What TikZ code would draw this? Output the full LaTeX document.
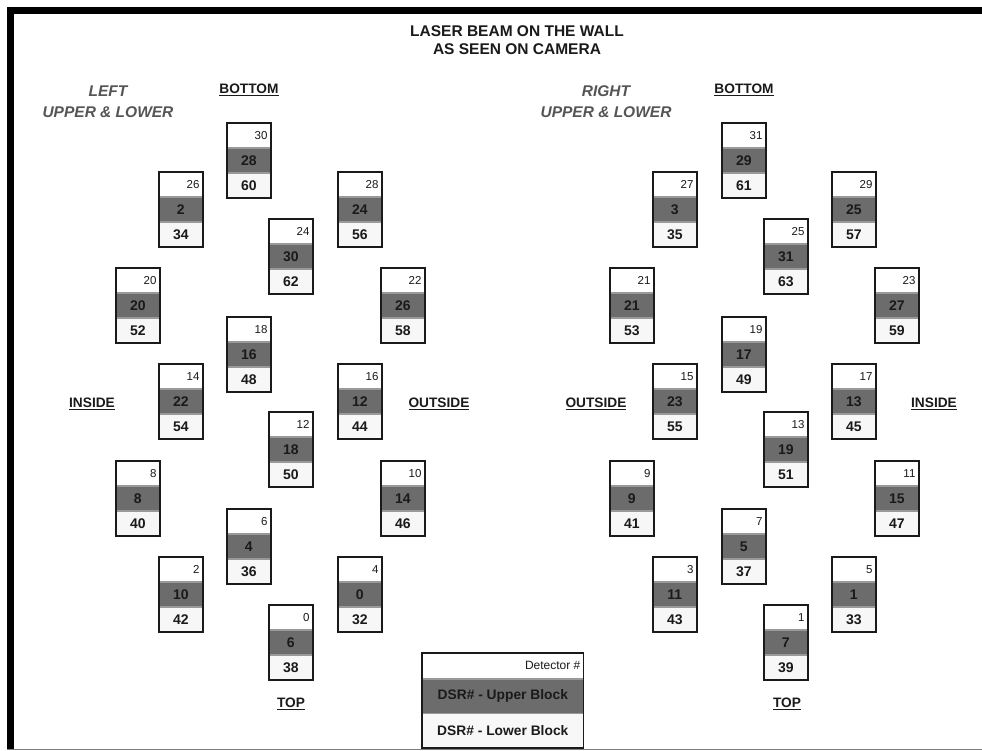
\documentclass[tikz,border=0pt]{standalone}
\usepackage{fontspec}
\setmainfont{Liberation Sans}
\definecolor{dark}{HTML}{6C6C6C}
\definecolor{pale}{HTML}{F7F7F7}
\definecolor{ink}{HTML}{1A1A1A}
\definecolor{lab}{HTML}{555555}
\tikzset{
  cell/.style={rectangle, minimum width=43pt, minimum height=24.33pt, inner sep=0pt,
    draw=gray!80, line width=0.6pt, font=\fontsize{14}{16}\selectfont\bfseries, text=ink},
  toprow/.style={cell, fill=white},
  midrow/.style={cell, fill=dark},
  botrow/.style={cell, fill=pale},
  frame/.style={draw=ink, line width=1.8pt},
  toplabel/.style={font=\fontsize{11.5}{13}\selectfont, text=ink, anchor=east, inner sep=0pt},
  heading/.style={font=\fontsize{15.5}{18}\selectfont\bfseries, text=ink, align=center},
  sidelabel/.style={font=\fontsize{15.5}{21}\selectfont\bfseries\itshape, text=lab, align=center},
  dirlabel/.style={font=\fontsize{13.7}{16}\selectfont\bfseries, text=ink, inner sep=1pt},
  legcell/.style={rectangle, minimum width=161pt, inner sep=0pt, draw=gray!80, line width=0.6pt,
    font=\fontsize{13.8}{16}\selectfont\bfseries, text=ink}
}
\newcommand\detbox[6]{%
  \node[toprow, anchor=north west] (#1t) at (#2,#3) {};
  \node[toplabel] (#1n) at ([xshift=-3pt]#1t.east) {#4};
  \node[midrow, anchor=north] (#1m) at (#1t.south) {#5};
  \node[botrow, anchor=north] (#1b) at (#1m.south) {#6};
  \draw[frame] (#1t.north west) rectangle (#1b.south east);
}
\begin{document}
\begin{tikzpicture}[x=1pt, y=-1pt]
\useasboundingbox (0,0) rectangle (982,750);
\fill[white] (0,0) rectangle (982,750);
% frame
\fill[black] (7,7) rectangle (982,14);
\fill[black] (7,7) rectangle (14,750);
\draw[gray, line width=1.2pt] (7,749.4) -- (982,749.4);
% title
\node[heading] (title) at (517,40) {LASER BEAM ON THE WALL\\AS SEEN ON CAMERA};
% side labels
\node[sidelabel] (leftlab) at (108,102) {LEFT\\UPPER \& LOWER};
\node[sidelabel] (rightlab) at (606,102) {RIGHT\\UPPER \& LOWER};
% direction labels
\node[dirlabel] (lbottom) at (249,90) {\underline{BOTTOM}};
\node[dirlabel] (rbottom) at (744,90) {\underline{BOTTOM}};
\node[dirlabel] (linside) at (92,404) {\underline{INSIDE}};
\node[dirlabel] (loutside) at (439,404) {\underline{OUTSIDE}};
\node[dirlabel] (routside) at (596,404) {\underline{OUTSIDE}};
\node[dirlabel] (rinside) at (934,404) {\underline{INSIDE}};
\node[dirlabel] (ltop) at (291,704) {\underline{TOP}};
\node[dirlabel] (rtop) at (787,704) {\underline{TOP}};
% left group
\detbox{La}{227}{123}{30}{28}{60}
\detbox{Lb}{159}{172}{26}{2}{34}
\detbox{Lc}{338}{172}{28}{24}{56}
\detbox{Ld}{269}{219}{24}{30}{62}
\detbox{Le}{116}{268}{20}{20}{52}
\detbox{Lf}{381}{268}{22}{26}{58}
\detbox{Lg}{227}{317}{18}{16}{48}
\detbox{Lh}{159}{364}{14}{22}{54}
\detbox{Li}{338}{364}{16}{12}{44}
\detbox{Lj}{269}{412}{12}{18}{50}
\detbox{Lk}{116}{461}{8}{8}{40}
\detbox{Ll}{381}{461}{10}{14}{46}
\detbox{Lm}{227}{509}{6}{4}{36}
\detbox{Ln}{159}{557}{2}{10}{42}
\detbox{Lo}{338}{557}{4}{0}{32}
\detbox{Lp}{269}{605}{0}{6}{38}
% right group
\detbox{Ra}{722}{123}{31}{29}{61}
\detbox{Rb}{653}{172}{27}{3}{35}
\detbox{Rc}{832}{172}{29}{25}{57}
\detbox{Rd}{764}{219}{25}{31}{63}
\detbox{Re}{610}{268}{21}{21}{53}
\detbox{Rf}{875}{268}{23}{27}{59}
\detbox{Rg}{722}{317}{19}{17}{49}
\detbox{Rh}{653}{364}{15}{23}{55}
\detbox{Ri}{832}{364}{17}{13}{45}
\detbox{Rj}{764}{412}{13}{19}{51}
\detbox{Rk}{610}{461}{9}{9}{41}
\detbox{Rl}{875}{461}{11}{15}{47}
\detbox{Rm}{722}{509}{7}{5}{37}
\detbox{Rn}{653}{557}{3}{11}{43}
\detbox{Ro}{832}{557}{5}{1}{33}
\detbox{Rp}{764}{605}{1}{7}{39}
% legend
\node[legcell, minimum height=25pt, fill=white, anchor=north west] (legt) at (422,653) {};
\node[font=\fontsize{12}{14}\selectfont, text=ink, anchor=east, inner sep=0pt] (legn) at ([xshift=-3pt]legt.east) {Detector \#};
\node[legcell, minimum height=34pt, fill=dark, anchor=north] (legm) at (legt.south) {DSR\# - Upper Block};
\node[legcell, minimum height=34pt, fill=pale, anchor=north] (legb) at (legm.south) {DSR\# - Lower Block};
\draw[frame, line width=1.4pt] (legt.north west) rectangle (legb.south east);
\end{tikzpicture}
\end{document}
